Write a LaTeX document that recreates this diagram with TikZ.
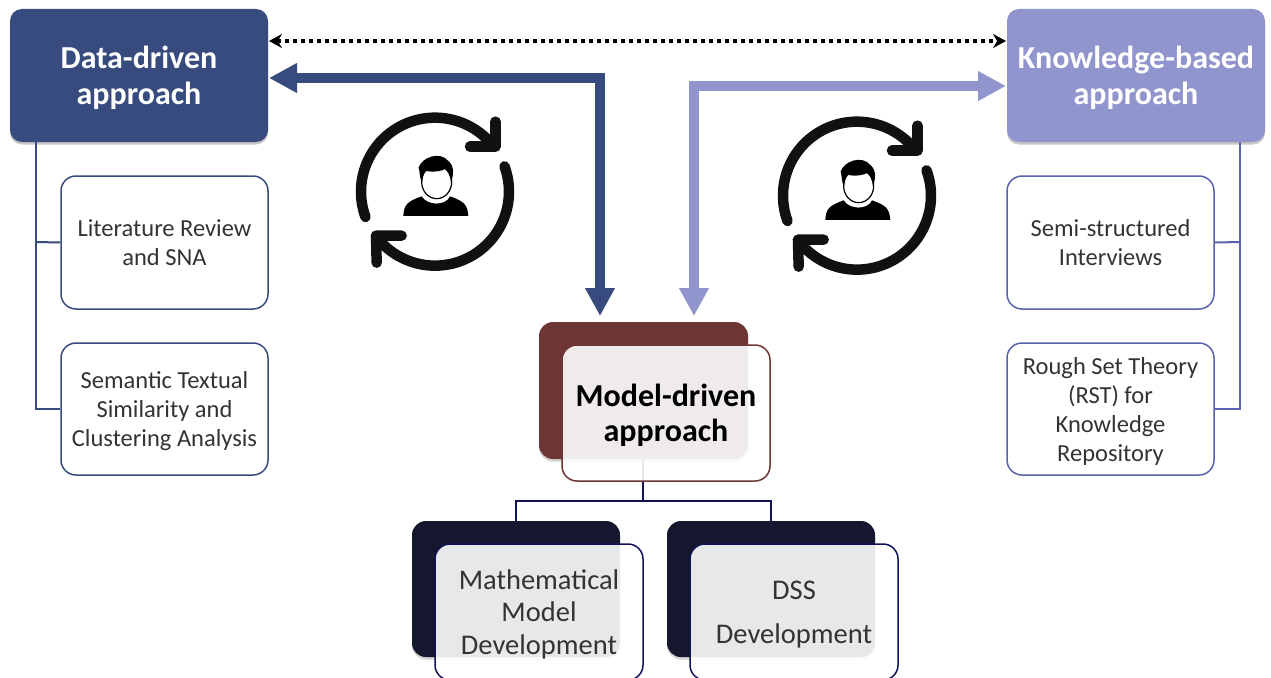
\documentclass[tikz,border=0pt]{standalone}
\usepackage{fontspec}
\setmainfont{Carlito}
\usetikzlibrary{arrows.meta,shadows}
\definecolor{dblue}{HTML}{374B7E}
\definecolor{lblue}{HTML}{9096CD}
\definecolor{rline}{HTML}{5A62AE}
\definecolor{maroon}{HTML}{6E3535}
\definecolor{navy}{HTML}{14172E}
\definecolor{ink}{HTML}{111111}
\newcommand{\lift}[1]{\rule{0pt}{#1pt}}
\tikzset{
  headbox/.style={rounded corners=12pt,minimum width=258pt,minimum height=133pt,inner sep=0pt,align=center,
    font=\fontsize{32}{36}\selectfont\bfseries,text=white,drop shadow={shadow xshift=0pt,shadow yshift=-2.5pt,opacity=.45}},
  backbox/.style={rounded corners=14pt,minimum width=209pt,minimum height=137pt,inner sep=0pt,
    drop shadow={shadow xshift=0pt,shadow yshift=-2.5pt,opacity=.35}},
  frontbox/.style={rounded corners=15pt,minimum width=208pt,minimum height=136pt,inner sep=0pt,align=center,
    line width=1.5pt,fill=white,fill opacity=.9,text opacity=1},
  sidebox/.style={rounded corners=15pt,minimum width=207pt,inner sep=0pt,align=center,line width=1.5pt,
    fill=white,font=\fontsize{24.5}{29}\selectfont,text=black!80},
  tree/.style={line width=2pt},
  bigarrow/.style={line width=10pt,{Triangle[length=28pt,width=28pt]}-{Triangle[length=28pt,width=28pt]}},
  ring/.style={line width=10.5pt,line cap=round,line join=round,draw=ink}
}
\newcommand{\usericon}[2]{%
\begin{scope}[shift={(#1,#2)},x=.3333pt,y=-.3333pt]
  \draw[ring] plot[domain=160:322,samples=40,smooth] ({285+222*cos(\x)},{275+222*sin(\x)});
  \draw[ring] plot[domain=340:503,samples=40,smooth] ({285+222*cos(\x)},{275+222*sin(\x)});
  \draw[ring] (466,65) -- (466,140) -- (390,140);
  \draw[ring] (185,407) -- (108,407) -- (110,488);
  \fill[black] (190,348) .. controls (192,315) and (200,305) .. (245,289)
    .. controls (262,318) and (318,318) .. (330,289)
    .. controls (375,305) and (382,315) .. (385,348) -- cycle;
  \filldraw[fill=white,draw=black,line width=1.2pt] (290,246) ellipse [x radius=45,y radius=50];
  \fill[black] (236,203) .. controls (245,172) and (300,152) .. (325,183)
    .. controls (345,200) and (340,225) .. (333,248)
    .. controls (331,228) and (325,215) .. (315,207)
    .. controls (295,218) and (265,215) .. (255,212)
    .. controls (248,224) and (248,236) .. (246,248)
    .. controls (238,232) and (240,215) .. (236,203) -- cycle;
\end{scope}}
\begin{document}
\begin{tikzpicture}[x=1pt,y=-1pt]
\clip (0,0) rectangle (1271,677);
\useasboundingbox (0,0) rectangle (1271,677);
% tree lines
\coordinate (ltrunk) at (36,142);
\coordinate (lb1) at (36,242);
\coordinate (lb2) at (36,409);
\coordinate (rtrunk) at (1240,142);
\coordinate (rb1) at (1240,242);
\coordinate (rb2) at (1240,409);
% head boxes
\node[headbox,fill=dblue] (data) at (139,75.5) {\lift{27}Data-driven\\approach};
\node[headbox,fill=lblue] (know) at (1136,75.5) {\lift{27}Knowledge-based\\approach};
% side boxes
\node[sidebox,draw=dblue,minimum height=133pt] (lit) at (164.5,242.5) {Literature Review\\and SNA};
\node[sidebox,draw=dblue,minimum height=132pt] (sem) at (164.5,409) {\lift{21}Semantic Textual\\Similarity and\\Clustering Analysis};
\node[sidebox,draw=rline,minimum height=133pt] (semi) at (1110.5,242.5) {Semi-structured\\Interviews};
\node[sidebox,draw=rline,minimum height=132pt] (rst) at (1110.5,409) {\lift{21}Rough Set Theory\\(RST) for\\Knowledge\\Repository};
\draw[tree,dblue] (ltrunk) -- (lb2) -- (sem.west);
\draw[tree,dblue] (lb1) -- (lit.west);
\draw[tree,rline] (rtrunk) -- (rb2) -- (rst.east);
\draw[tree,rline] (rb1) -- (semi.east);
% model tree
\coordinate (mtrunk) at (643,459);
\coordinate (mjoin) at (643,501);
\coordinate (mleft) at (516,521);
\coordinate (mright) at (771,521);
\draw[tree,navy!80!blue] (mtrunk) -- (mjoin);
\draw[tree,navy!80!blue] (mleft) -- (516,501) -- (771,501) -- (mright);
% model boxes
\node[backbox,fill=maroon] (mback) at (643.5,390.5) {};
\node[frontbox,draw=maroon,font=\fontsize{32}{35}\selectfont\bfseries,text=black] (model) at (666,413) {\lift{27}Model-driven\\approach};
\node[backbox,fill=navy,minimum width=208pt,minimum height=136pt] (mathback) at (516,589) {};
\node[frontbox,draw=navy!80!blue,font=\fontsize{28.5}{32.5}\selectfont,text=black!80] (math) at (539,612) {\lift{24}Mathematical\\Model\\Development};
\node[backbox,fill=navy,minimum width=208pt,minimum height=136pt] (dssback) at (771,589) {};
\node[frontbox,draw=navy!80!blue,font=\fontsize{28.5}{44}\selectfont,text=black!80] (dss) at (794,612) {\lift{24}DSS\\Development};
% arrows
\coordinate (dotL) at (269,41);
\coordinate (dotR) at (1006,41);
\draw[line width=4pt,dash pattern=on 4pt off 4pt,{Stealth[length=13pt,width=14pt]}-{Stealth[length=13pt,width=14pt]}] (dotL) -- (dotR);
\coordinate (bL) at (269,78);
\coordinate (bB) at (600,316);
\coordinate (lR) at (1006,86);
\coordinate (lB) at (694,316);
\draw[bigarrow,dblue] (bL) -- (600,78) -- (bB);
\draw[bigarrow,lblue] (lR) -- (694,86) -- (lB);
% icons
\usericon{340}{100}
\usericon{762}{104}
\end{tikzpicture}
\end{document}
